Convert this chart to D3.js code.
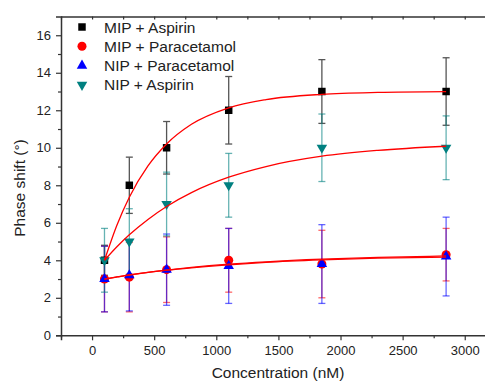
<!DOCTYPE html>
<html>
<head>
<meta charset="utf-8">
<script src="https://cdn.jsdelivr.net/npm/d3@7"></script>
<style>
    body { margin: 0; background: #fff; }
    svg { display: block; font-family: Arial, "Liberation Sans", sans-serif; }
</style>
</head>
<body>
<div class="canvas"></div>
<script>
// Data
const concentrations = [100, 300, 600, 1100, 1850, 2850];

const mipAspirin = [4, 8, 10, 12, 13, 13];
const mipAspirinErr = [0.8, 1.5, 1.4, 1.8, 1.7, 1.8];

const mipParacetamol = [3, 3.1, 3.5, 4, 3.8, 4.3];
const mipParacetamolErr = [1.75, 1.85, 1.75, 1.7, 1.8, 1.4];

const nipParacetamol = [3, 3.2, 3.5, 3.7, 3.8, 4.2];
const nipParacetamolErr = [1.75, 1.9, 1.9, 2.0, 2.1, 2.1];

const nipAspirin = [4, 5, 7, 8, 10, 10];
const nipAspirinErr = [1.7, 1.75, 1.7, 1.7, 1.8, 1.7];

// Fitted curves, sampled along the red lines in the picture
const fitX = [100, 200, 300, 450, 600, 800, 1100, 1400, 1850, 2300, 2850];
const fitMipAspirin = [4, 5.87, 7.36, 9.03, 10.2, 11.25, 12.13, 12.57, 12.85, 12.95, 12.99];
const fitNipAspirin = [4, 4.72, 5.36, 6.18, 6.87, 7.61, 8.43, 9.0, 9.55, 9.86, 10.08];
const fitMipParacetamol = [3, 3.11, 3.22, 3.36, 3.48, 3.62, 3.79, 3.92, 4.06, 4.15, 4.23];
const fitNipParacetamol = [3, 3.11, 3.21, 3.35, 3.47, 3.60, 3.76, 3.89, 4.02, 4.11, 4.17];

const xTicks = [0, 500, 1000, 1500, 2000, 2500, 3000];
const yTicks = [0, 2, 4, 6, 8, 10, 12, 14, 16];

const width = 485, height = 383;

const svg = d3.select(".canvas")
    .append("svg")
    .attr("width", width)
    .attr("height", height);

// Scales
const x = d3.scaleLinear().domain([-250, 3250]).range([61, 495.8]);
const y = d3.scaleLinear().domain([0, 17]).range([335.3, 16.5]);

const axisColor = "#333";

// Series setup (draw order: black, red, blue, teal)
const series = [
    { name: "MIP + Aspirin", values: mipAspirin, err: mipAspirinErr, color: "#000", errColor: "#555", shape: d3.symbolSquare, size: 56, rotate: 0 },
    { name: "MIP + Paracetamol", values: mipParacetamol, err: mipParacetamolErr, color: "#ff0000", errColor: "rgba(255,0,0,0.6)", shape: d3.symbolCircle, size: 64, rotate: 0 },
    { name: "NIP + Paracetamol", values: nipParacetamol, err: nipParacetamolErr, color: "#0000ff", errColor: "rgba(0,0,255,0.6)", shape: d3.symbolTriangle, size: 48, rotate: 0 },
    { name: "NIP + Aspirin", values: nipAspirin, err: nipAspirinErr, color: "#008080", errColor: "rgba(0,128,128,0.6)", shape: d3.symbolTriangle, size: 48, rotate: 180 }
];

const fits = [fitMipAspirin, fitNipAspirin, fitMipParacetamol, fitNipParacetamol];

// Error bars
const errGroup = svg.append("g").attr("class", "errors");
series.forEach(s => {
    const g = errGroup.append("g");
    const pts = concentrations.map((c, i) => ({ x: c, y: s.values[i], e: s.err[i] }));
    g.selectAll("line.stem")
        .data(pts)
        .enter().append("line")
        .attr("x1", d => x(d.x)).attr("x2", d => x(d.x))
        .attr("y1", d => y(d.y - d.e)).attr("y2", d => y(d.y + d.e))
        .attr("stroke", s.errColor).attr("stroke-width", 1.3);
    ["top", "bottom"].forEach(side => {
        g.selectAll("line.cap-" + side)
            .data(pts)
            .enter().append("line")
            .attr("x1", d => x(d.x) - 3.5).attr("x2", d => x(d.x) + 3.5)
            .attr("y1", d => y(side === "top" ? d.y + d.e : d.y - d.e))
            .attr("y2", d => y(side === "top" ? d.y + d.e : d.y - d.e))
            .attr("stroke", s.errColor).attr("stroke-width", 1.3);
    });
});

// Markers
series.forEach(s => {
    const sym = d3.symbol().type(s.shape).size(s.size);
    svg.append("g")
        .selectAll("path")
        .data(concentrations.map((c, i) => ({ x: c, y: s.values[i] })))
        .enter().append("path")
        .attr("d", sym)
        .attr("fill", s.color)
        .attr("transform", d => "translate(" + x(d.x) + "," + y(d.y) + ") rotate(" + s.rotate + ")");
});

// Fit curves
const line = d3.line()
    .x(d => x(d[0]))
    .y(d => y(d[1]))
    .curve(d3.curveMonotoneX);

svg.append("g")
    .selectAll("path")
    .data(fits)
    .enter().append("path")
    .attr("d", f => line(fitX.map((v, i) => [v, f[i]])))
    .attr("fill", "none")
    .attr("stroke", "#ff0000")
    .attr("stroke-width", 1.3);

// Axes
const xMinor = d3.range(-250, 3251, 250).filter(v => v % 500 !== 0);
const yMinor = d3.range(1, 17, 2);

const bottomAxis = svg.append("g")
    .attr("transform", "translate(0," + y(0) + ")")
    .call(d3.axisBottom(x).tickValues(xTicks).tickSize(5).tickPadding(5).tickFormat(d3.format("d")));

svg.append("g")
    .attr("transform", "translate(0," + y(0) + ")")
    .call(d3.axisBottom(x).tickValues(xMinor).tickSize(3).tickFormat(""))
    .select(".domain").remove();

const leftAxis = svg.append("g")
    .attr("transform", "translate(" + x(-250) + ",0)")
    .call(d3.axisLeft(y).tickValues(yTicks).tickSize(5).tickPadding(5));

svg.append("g")
    .attr("transform", "translate(" + x(-250) + ",0)")
    .call(d3.axisLeft(y).tickValues(yMinor).tickSize(3).tickFormat(""))
    .select(".domain").remove();

// Top border with inward ticks
svg.append("g")
    .attr("transform", "translate(0," + y(17) + ")")
    .call(d3.axisBottom(x).tickValues(xTicks.concat(xMinor)).tickSize(3).tickSizeOuter(0).tickFormat(""));

svg.selectAll(".domain").attr("stroke", axisColor).attr("stroke-width", 1.5);
svg.selectAll(".tick line").attr("stroke", axisColor).attr("stroke-width", 1.2);
svg.selectAll(".tick text")
    .attr("fill", "#222")
    .style("font-size", "13px")
    .style("font-family", "Arial, 'Liberation Sans', sans-serif");

// Axis titles
svg.append("text")
    .attr("x", 278)
    .attr("y", 378)
    .attr("text-anchor", "middle")
    .style("font-size", "15.5px")
    .attr("fill", "#222")
    .text("Concentration (nM)");

svg.append("text")
    .attr("transform", "translate(25,188) rotate(-90)")
    .attr("text-anchor", "middle")
    .style("font-size", "15.5px")
    .attr("fill", "#222")
    .text("Phase shift (°)");

// Legend
const legend = svg.append("g")
    .selectAll("g")
    .data(series)
    .enter().append("g")
    .attr("transform", (d, i) => "translate(82," + (27 + i * 19.3) + ")");

legend.append("path")
    .attr("d", d => d3.symbol().type(d.shape).size(d.size)())
    .attr("fill", d => d.color)
    .attr("transform", d => "rotate(" + d.rotate + ")");

legend.append("text")
    .attr("x", 22)
    .attr("dy", "0.36em")
    .style("font-size", "15.5px")
    .attr("fill", "#222")
    .text(d => d.name);
</script>
</body>
</html>
